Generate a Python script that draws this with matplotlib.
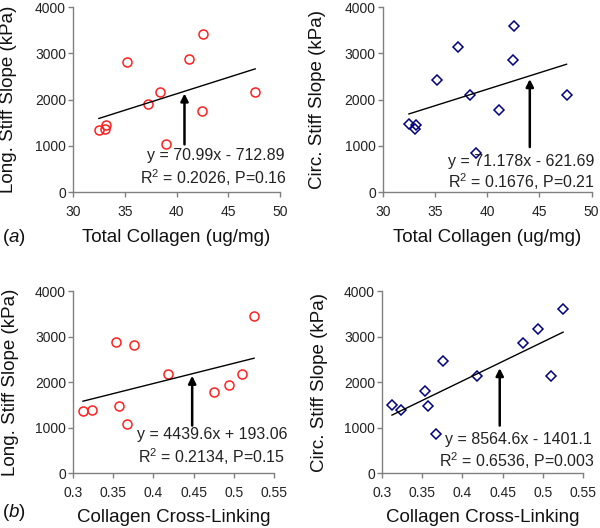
import matplotlib
matplotlib.use("Agg")
import matplotlib.pyplot as plt

plt.rcParams['font.family'] = ['Liberation Sans', 'DejaVu Sans']
plt.rcParams['mathtext.fontset'] = 'custom'
plt.rcParams['mathtext.rm'] = 'Liberation Sans'
plt.rcParams['mathtext.it'] = 'Liberation Sans:italic'

# Data
total_collagen = [32.5, 33.05, 33.2, 35.2, 37.2, 38.4, 38.97, 41.16, 42.44, 42.57, 47.6]
long_vs_tc = [1338, 1374, 1461, 2814, 1910, 2156, 1049, 2872, 1758, 3421, 2156]
circ_vs_tc = [1483, 1374, 1447, 2430, 3146, 2112, 853, 1772, 2857, 3595, 2105]

crosslink = [0.3124, 0.3236, 0.353, 0.3571, 0.367, 0.3753, 0.418, 0.4759, 0.4945, 0.5098, 0.5252]
long_vs_cl = [1358, 1380, 2883, 1467, 1080, 2825, 2175, 1774, 1942, 2175, 3445]
circ_vs_cl = [1504, 1394, 1796, 1482, 869, 2460, 2124, 2869, 3168, 2131, 3613]

# regression (slope, intercept) as printed on the chart
fits = [(70.99, -712.89), (71.178, -621.69), (4439.6, 193.06), (8564.6, -1401.1)]
eq_text = ["y = 70.99x - 712.89", "y = 71.178x - 621.69",
           "y = 4439.6x + 193.06", "y = 8564.6x - 1401.1"]
r2_text = [r"R$^2$ = 0.2026, P=0.16", r"R$^2$ = 0.1676, P=0.21",
           r"R$^2$ = 0.2134, P=0.15", r"R$^2$ = 0.6536, P=0.003"]
# arrow: x position, tail y, tip y
arrows = [(40.77, 1034, 2134), (44.08, 976, 2445), (0.4482, 1044, 2139), (0.4464, 1044, 2307)]

fig = plt.figure(figsize=(6.0, 5.28), dpi=100)

panels = [
    dict(pos=[0.1217, 0.636, 0.345, 0.3504], x=total_collagen, y=long_vs_tc, marker='o', color='#ff2020',
         xlim=(30, 50), xticks=[30, 35, 40, 45, 50], xlabel="Total Collagen (ug/mg)",
         ylabel="Long. Stiff Slope (kPa)", txt=[(1.024, 0.2), (1.034, 0.081)]),
    dict(pos=[0.638, 0.636, 0.348, 0.3504], x=total_collagen, y=circ_vs_tc, marker='D', color='#000080',
         xlim=(30, 50), xticks=[30, 35, 40, 45, 50], xlabel="Total Collagen (ug/mg)",
         ylabel="Circ. Stiff Slope (kPa)", txt=[(1.014, 0.164), (1.014, 0.056)]),
    dict(pos=[0.1217, 0.104, 0.335, 0.3447], x=crosslink, y=long_vs_cl, marker='o', color='#ff2020',
         xlim=(0.3, 0.55), xticks=[0.3, 0.35, 0.4, 0.45, 0.5, 0.55], xlabel="Collagen Cross-Linking",
         ylabel="Long. Stiff Slope (kPa)", txt=[(1.065, 0.214), (1.055, 0.09)]),
    dict(pos=[0.6367, 0.104, 0.335, 0.3447], x=crosslink, y=circ_vs_cl, marker='D', color='#000080',
         xlim=(0.3, 0.55), xticks=[0.3, 0.35, 0.4, 0.45, 0.5, 0.55], xlabel="Collagen Cross-Linking",
         ylabel="Circ. Stiff Slope (kPa)", txt=[(1.043, 0.187), (1.06, 0.068)]),
]

for i, p in enumerate(panels):
    ax = fig.add_axes(p['pos'])
    ms = 6.5 if p['marker'] == 'o' else 5.5
    ax.plot(p['x'], p['y'], linestyle='none', marker=p['marker'], markersize=ms,
            markerfacecolor='none', markeredgecolor=p['color'], markeredgewidth=1.1, clip_on=False)

    # fitted line between min and max x
    m, b = fits[i]
    x0, x1 = min(p['x']), max(p['x'])
    ax.plot([x0, x1], [m * x0 + b, m * x1 + b], color='k', lw=1)

    ax_x, tail, tip = arrows[i]
    ax.annotate("", xy=(ax_x, tip), xytext=(ax_x, tail),
                arrowprops=dict(arrowstyle='-|>', color='k', lw=1.8, mutation_scale=11,
                                shrinkA=0, shrinkB=0))

    (tx1, ty1), (tx2, ty2) = p['txt']
    ax.text(tx1, ty1, eq_text[i], transform=ax.transAxes, ha='right', va='center',
            fontsize=11.5, color='#222222')
    ax.text(tx2, ty2, r2_text[i], transform=ax.transAxes, ha='right', va='center',
            fontsize=11.5, color='#222222')

    ax.set_xlim(*p['xlim'])
    ax.set_ylim(0, 4000)
    ax.set_xticks(p['xticks'])
    ax.set_xticklabels([f"{v:g}" for v in p['xticks']])
    ax.set_yticks([0, 1000, 2000, 3000, 4000])

    for side in ['top', 'right']:
        ax.spines[side].set_visible(False)
    for side in ['left', 'bottom']:
        ax.spines[side].set_color('#808080')
        ax.spines[side].set_linewidth(1)
    ax.tick_params(axis='both', direction='out', length=3.5, width=1, color='#808080',
                   labelsize=10, labelcolor='#222222')
    ax.tick_params(axis='x', pad=6)
    ax.tick_params(axis='y', pad=1.5)

    ax.set_xlabel(p['xlabel'], fontsize=13.5, color='#111111')
    ax.set_ylabel(p['ylabel'], fontsize=13.5, color='#111111')
    ax.xaxis.set_label_coords(0.5, -0.2)
    ax.yaxis.set_label_coords(-0.27, 0.5)

fig.text(0.004, 0.551, r"($\it{a}$)", fontsize=13.5, ha='left', va='center', color='#111111')
fig.text(0.004, 0.03, r"($\it{b}$)", fontsize=13.5, ha='left', va='center', color='#111111')

fig.savefig("out.png", dpi=100)
